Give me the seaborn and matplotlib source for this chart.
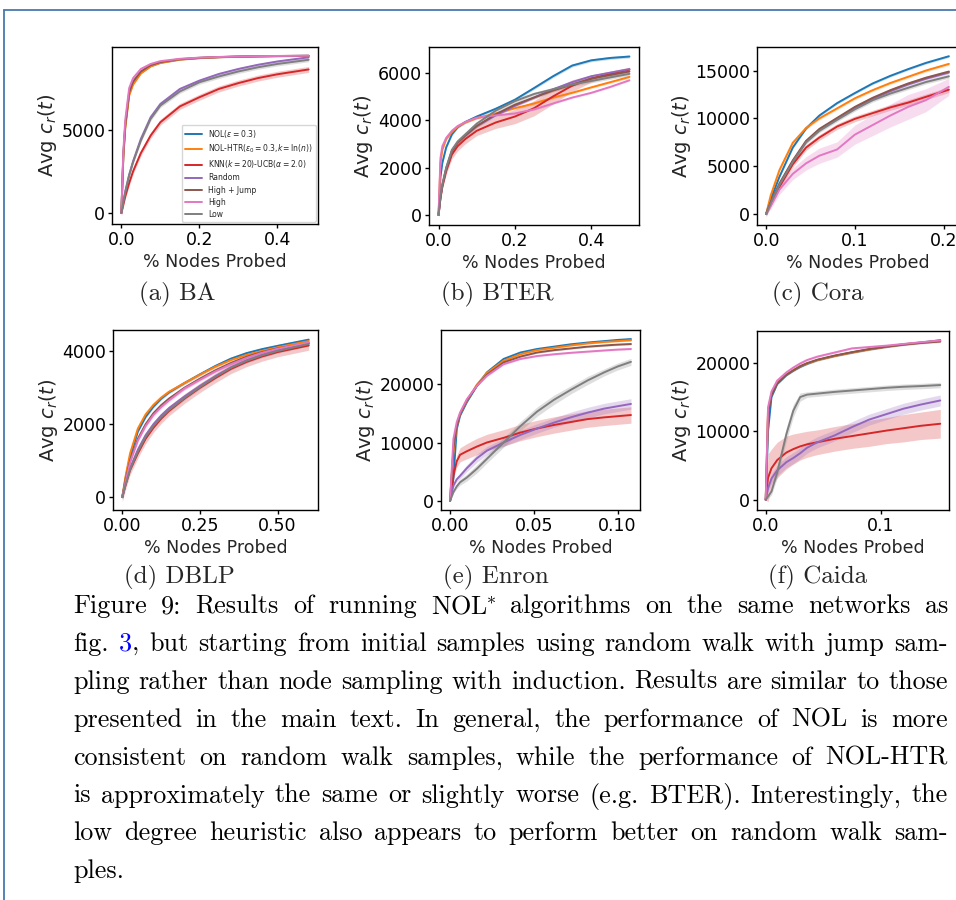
import numpy as np
import seaborn as sns
import matplotlib
matplotlib.use("Agg")
import matplotlib.pyplot as plt
from matplotlib.lines import Line2D

W, H = 956, 900

METHODS = [r"NOL($\epsilon = 0.3$)", r"NOL-HTR($\epsilon_0 = 0.3$,$k = \ln(n)$)",
           r"KNN($k = 20$)-UCB($\alpha = 2.0$)", "Random", "High + Jump", "High", "Low"]
COLORS = ["#1f77b4", "#ff7f0e", "#d62728", "#9467bd", "#8c564b", "#e377c2", "#7f7f7f"]

# (a) BA
BA_X = [0, 0.005, 0.01, 0.02, 0.03, 0.05, 0.075, 0.1, 0.15, 0.2, 0.25, 0.3, 0.35, 0.4, 0.48]
BA_NOL = [0, 3400, 5200, 7150, 7800, 8420, 8820, 9030, 9220, 9310, 9360, 9390, 9410, 9425, 9440]
BA_HTR = [0, 3300, 5100, 7050, 7700, 8380, 8800, 9010, 9210, 9300, 9355, 9385, 9405, 9420, 9435]
BA_KNN = [0, 500, 1000, 1800, 2500, 3600, 4650, 5450, 6400, 6950, 7450, 7800, 8100, 8330, 8620]
BA_RANDOM = [0, 700, 1300, 2300, 3100, 4450, 5750, 6550, 7450, 7950, 8350, 8650, 8900, 9100, 9350]
BA_HIGHJUMP = [0, 3500, 5300, 7250, 7900, 8500, 8880, 9060, 9240, 9320, 9365, 9395, 9415, 9428, 9442]
BA_HIGH = [0, 3700, 5600, 7500, 8100, 8650, 8950, 9120, 9260, 9330, 9370, 9400, 9420, 9430, 9445]
BA_LOW = [0, 650, 1250, 2250, 3050, 4350, 5650, 6450, 7300, 7850, 8200, 8500, 8750, 8950, 9200]
BA_SPREAD = [40, 40, 180, 80, 40, 40, 120]

# (b) BTER
BTER_X = [0, 0.005, 0.01, 0.02, 0.035, 0.05, 0.07, 0.1, 0.15, 0.2, 0.25, 0.3, 0.35, 0.4, 0.45, 0.5]
BTER_NOL = [0, 1600, 2200, 2850, 3400, 3700, 3920, 4150, 4480, 4860, 5350, 5850, 6300, 6520, 6620, 6680]
BTER_HTR = [0, 2200, 2750, 3200, 3500, 3720, 3900, 4080, 4280, 4500, 4700, 4950, 5150, 5380, 5600, 5820]
BTER_KNN = [0, 700, 1200, 1850, 2550, 2900, 3200, 3550, 3900, 4150, 4500, 5000, 5450, 5750, 5950, 6130]
BTER_RANDOM = [0, 750, 1250, 1950, 2700, 3050, 3350, 3750, 4200, 4600, 4950, 5300, 5600, 5850, 6000, 6150]
BTER_HIGHJUMP = [0, 750, 1250, 1950, 2700, 3050, 3350, 3750, 4250, 4650, 4950, 5250, 5500, 5750, 5900, 6050]
BTER_HIGH = [0, 2400, 2900, 3250, 3550, 3750, 3920, 4100, 4200, 4280, 4450, 4700, 4950, 5150, 5400, 5680]
BTER_LOW = [0, 800, 1300, 2000, 2750, 3100, 3400, 3850, 4400, 4800, 5100, 5300, 5500, 5650, 5800, 5950]
BTER_SPREAD = [60, 50, [0, 80, 120, 150, 180, 200, 200, 200, 250, 300, 320, 320, 250, 150, 120, 100], 60, 60, 40, 80]

# (c) Cora
CORA_X = [0, 0.005, 0.015, 0.03, 0.045, 0.06, 0.08, 0.1, 0.12, 0.14, 0.16, 0.18, 0.206]
CORA_NOL = [0, 1500, 3900, 6950, 8950, 10300, 11600, 12650, 13650, 14450, 15150, 15800, 16500]
CORA_HTR = [0, 1900, 4600, 7450, 9000, 10000, 11050, 12100, 12950, 13700, 14350, 15000, 15700]
CORA_KNN = [0, 1000, 2850, 5200, 6950, 8000, 9150, 9950, 10550, 11150, 11650, 12250, 13000]
CORA_RANDOM = [0, 1150, 3100, 5500, 7550, 8800, 9950, 11100, 12050, 12850, 13550, 14150, 14800]
CORA_HIGHJUMP = [0, 1200, 3200, 5600, 7650, 8900, 10050, 11200, 12150, 12950, 13650, 14250, 14900]
CORA_HIGH = [0, 800, 2550, 4200, 5300, 6100, 6750, 8300, 9300, 10300, 11200, 11900, 13300]
CORA_LOW = [0, 1100, 3050, 5450, 7500, 8700, 9850, 10950, 11900, 12600, 13200, 13800, 14400]
CORA_SPREAD = [120, 150, 300, 150, 150, [0, 300, 500, 600, 700, 800, 800, 1000, 1100, 1200, 1300, 1200, 900], 200]

# (d) DBLP
DBLP_X = [0, 0.01, 0.025, 0.05, 0.075, 0.1, 0.125, 0.15, 0.2, 0.25, 0.3, 0.35, 0.4, 0.45, 0.5, 0.6]
DBLP_NOL = [0, 500, 1100, 1800, 2200, 2480, 2700, 2870, 3130, 3370, 3600, 3800, 3950, 4060, 4150, 4320]
DBLP_HTR = [0, 550, 1200, 1880, 2270, 2530, 2730, 2890, 3130, 3360, 3580, 3760, 3900, 4010, 4110, 4280]
DBLP_KNN = [0, 320, 740, 1200, 1600, 1900, 2150, 2360, 2700, 3000, 3270, 3520, 3710, 3860, 3980, 4160]
DBLP_RANDOM = [0, 350, 800, 1300, 1700, 2000, 2240, 2440, 2760, 3050, 3320, 3560, 3750, 3900, 4030, 4230]
DBLP_HIGHJUMP = [0, 450, 1000, 1600, 2000, 2300, 2520, 2700, 3000, 3250, 3480, 3680, 3850, 3980, 4080, 4220]
DBLP_HIGH = [0, 400, 950, 1550, 1950, 2250, 2470, 2650, 2980, 3220, 3450, 3650, 3820, 3960, 4070, 4240]
DBLP_LOW = [0, 330, 760, 1250, 1650, 1950, 2190, 2390, 2720, 3020, 3300, 3550, 3740, 3890, 4010, 4200]
DBLP_SPREAD = [40, 40, 130, 60, 50, 50, 60]

# (e) Enron
ENRON_X = [0, 0.002, 0.004, 0.006, 0.01, 0.016, 0.022, 0.032, 0.042, 0.052, 0.062, 0.072, 0.082, 0.092, 0.1, 0.108]
ENRON_NOL = [0, 3800, 12300, 14600, 16900, 19700, 22000, 24300, 25400, 26000, 26400, 26800, 27100, 27350, 27550, 27700]
ENRON_HTR = [0, 8300, 12800, 14900, 17100, 19900, 21900, 24000, 25100, 25800, 26200, 26600, 26950, 27200, 27350, 27500]
ENRON_KNN = [0, 4300, 6800, 7900, 8500, 9300, 10000, 10800, 11700, 12400, 13000, 13500, 14000, 14300, 14500, 14700]
ENRON_RANDOM = [0, 2600, 3700, 4300, 5600, 7300, 8600, 10000, 11300, 12400, 13400, 14300, 15100, 15800, 16200, 16600]
ENRON_HIGHJUMP = [0, 9000, 12800, 14900, 17200, 19700, 21600, 23700, 24700, 25400, 25800, 26100, 26400, 26600, 26750, 26850]
ENRON_HIGH = [0, 10600, 13500, 15150, 17400, 19700, 21400, 23400, 24300, 24800, 25100, 25350, 25550, 25750, 25900, 26000]
ENRON_LOW = [0, 1500, 2500, 3200, 4000, 5500, 7200, 10000, 12800, 15300, 17300, 19000, 20600, 22000, 23000, 23800]
ENRON_SPREAD = [150, 150,
                [0, 600, 1000, 1200, 1300, 1400, 1400, 1400, 1400, 1400, 1400, 1400, 1400, 1400, 1400, 1400],
                [0, 300, 400, 500, 600, 700, 700, 700, 800, 800, 800, 900, 900, 900, 900, 900],
                150, 150,
                [0, 200, 400, 500, 600, 700, 700, 800, 800, 800, 800, 700, 700, 600, 600, 600]]

# (f) Caida
CAIDA_X = [0, 0.002, 0.005, 0.01, 0.018, 0.024, 0.03, 0.036, 0.045, 0.06, 0.075, 0.09, 0.105, 0.12, 0.135, 0.152]
CAIDA_NOL = [0, 10000, 15000, 16900, 18200, 18850, 19400, 19850, 20400, 21000, 21500, 21950, 22350, 22700, 22950, 23300]
CAIDA_HTR = [0, 13000, 15500, 17100, 18300, 18900, 19500, 19900, 20400, 21000, 21500, 21950, 22350, 22700, 22950, 23200]
CAIDA_KNN = [0, 3200, 4600, 5800, 6900, 7400, 7800, 8100, 8400, 8900, 9300, 9700, 10100, 10450, 10800, 11100]
CAIDA_RANDOM = [0, 1700, 3100, 4300, 5500, 6100, 6800, 7600, 8400, 9400, 10600, 11700, 12500, 13300, 13900, 14500]
CAIDA_HIGHJUMP = [0, 12500, 15300, 17000, 18250, 18900, 19500, 19950, 20450, 21050, 21550, 22000, 22350, 22650, 22900, 23100]
CAIDA_HIGH = [0, 13500, 15800, 17400, 18600, 19300, 19900, 20400, 20900, 21500, 22100, 22300, 22500, 22750, 23000, 23250]
CAIDA_LOW = [0, 500, 1200, 4000, 9600, 13000, 15000, 15350, 15500, 15750, 15950, 16150, 16350, 16500, 16600, 16750]
CAIDA_SPREAD = [150, 150,
                [0, 3500, 2800, 2600, 2400, 2200, 2000, 1900, 1800, 1800, 1800, 1900, 1900, 2000, 2000, 2100],
                [0, 500, 700, 800, 800, 800, 800, 800, 800, 800, 800, 800, 800, 800, 800, 800],
                150, 150,
                [0, 300, 500, 800, 1000, 900, 600, 400, 400, 400, 400, 400, 400, 400, 400, 400]]

SUBCAPTIONS = ["(a) BA", "(b) BTER", "(c) Cora", "(d) DBLP", "(e) Enron", "(f) Caida"]

CAPTION = [
    r"Figure 9: Results of running $\mathrm{NOL}^{\!\!*}$ algorithms on the same networks as",
    "fig. 3, but starting from initial samples using random walk with jump sam-",
    "pling rather than node sampling with induction. Results are similar to those",
    "presented in the main text. In general, the performance of NOL is more",
    "consistent on random walk samples, while the performance of NOL-HTR",
    "is approximately the same or slightly worse (e.g. BTER). Interestingly, the",
    "low degree heuristic also appears to perform better on random walk sam-",
    "ples.",
]

# axes box in pixels (left, top, right, bottom)
panels = [
    (BA_X, [BA_NOL, BA_HTR, BA_KNN, BA_RANDOM, BA_HIGHJUMP, BA_HIGH, BA_LOW], BA_SPREAD,
     (112, 47, 318, 224), [0, 5000], [0, 0.2, 0.4]),
    (BTER_X, [BTER_NOL, BTER_HTR, BTER_KNN, BTER_RANDOM, BTER_HIGHJUMP, BTER_HIGH, BTER_LOW], BTER_SPREAD,
     (429, 47, 639, 225), [0, 2000, 4000, 6000], [0, 0.2, 0.4]),
    (CORA_X, [CORA_NOL, CORA_HTR, CORA_KNN, CORA_RANDOM, CORA_HIGHJUMP, CORA_HIGH, CORA_LOW], CORA_SPREAD,
     (757, 47, 958, 225), [0, 5000, 10000, 15000], [0, 0.1, 0.2]),
    (DBLP_X, [DBLP_NOL, DBLP_HTR, DBLP_KNN, DBLP_RANDOM, DBLP_HIGHJUMP, DBLP_HIGH, DBLP_LOW], DBLP_SPREAD,
     (113, 330, 318, 510), [0, 2000, 4000], [0, 0.25, 0.5]),
    (ENRON_X, [ENRON_NOL, ENRON_HTR, ENRON_KNN, ENRON_RANDOM, ENRON_HIGHJUMP, ENRON_HIGH, ENRON_LOW], ENRON_SPREAD,
     (441, 330, 640, 510), [0, 10000, 20000], [0, 0.05, 0.1]),
    (CAIDA_X, [CAIDA_NOL, CAIDA_HTR, CAIDA_KNN, CAIDA_RANDOM, CAIDA_HIGHJUMP, CAIDA_HIGH, CAIDA_LOW], CAIDA_SPREAD,
     (757, 331, 949, 510), [0, 10000, 20000], [0, 0.1]),
]

sns.set_theme(style="ticks")
plt.rcParams["font.family"] = ["DejaVu Sans"]
plt.rcParams["axes.edgecolor"] = "black"
plt.rcParams["xtick.color"] = "black"
plt.rcParams["ytick.color"] = "black"

fig = plt.figure(figsize=(W / 100, H / 100), dpi=100)
fig.patch.set_facecolor("white")

for i, (xs, series, spreads, box, yt, xt) in enumerate(panels):
    x0, y0, x1, y1 = box
    ax = fig.add_axes([x0 / W, 1 - y1 / H, (x1 - x0) / W, (y1 - y0) / H])
    x = np.array(xs)
    for name, vals, spread, col in zip(METHODS, series, spreads, COLORS):
        y = np.array(vals, dtype=float)
        s = np.array(spread, dtype=float)
        ax.fill_between(x, y - s, y + s, color=col, alpha=0.25, lw=0)
        sns.lineplot(x=x, y=y, ax=ax, color=col, label=name, linewidth=1.4, legend=(i == 0))
    ax.set_yticks(yt)
    ax.set_xticks(xt)
    ax.tick_params(labelsize=12.5, length=3, width=1, pad=1.8)
    ax.set_xlabel("% Nodes Probed", fontsize=12.5, labelpad=3)
    ax.set_ylabel(r"Avg $c_r(t)$", fontsize=14, labelpad=2)
    for sp in ax.spines.values():
        sp.set_linewidth(1)
        sp.set_color("black")
    if i == 0:
        ax.legend(loc="lower right", fontsize=5.5, frameon=True, edgecolor="0.8",
                  borderaxespad=0.3, handlelength=2.2, labelspacing=0.4)

# sub-figure captions
SERIF = "cmr10"
sub_pos = [(177, 300), (497, 300), (818, 300), (179, 583), (496, 583), (818, 583)]
for txt, (cx, cy) in zip(SUBCAPTIONS, sub_pos):
    fig.text(cx / W, 1 - cy / H, txt, fontsize=18, family=SERIF, ha="center", va="baseline")

# justified caption paragraph
renderer = fig.canvas.get_renderer()


def put_line(line, ybase, justify, left=73, right=948, size=18.8):
    words = []
    for w in line.split(" "):
        if w == "3,":
            parts = [("3", "#0000ff"), (",", "black")]
        else:
            parts = [(w, "black")]
        objs = []
        for s, c in parts:
            t = fig.text(0, 1 - ybase / H, s, fontsize=size, family=SERIF, color=c,
                         math_fontfamily="cm", ha="left", va="baseline")
            objs.append((t, t.get_window_extent(renderer).width))
        words.append(objs)
    total = sum(wd for objs in words for _, wd in objs)
    if justify and len(words) > 1:
        gap = (right - left - total) / (len(words) - 1)
    else:
        gap = size * 0.333 * 100 / 72
    xpos = left
    for objs in words:
        for t, wd in objs:
            t.set_x(xpos / W)
            xpos += wd
        xpos += gap


for k, line in enumerate(CAPTION):
    put_line(line, 613 + 37.9 * k, justify=(k < len(CAPTION) - 1))

# page frame
frame = "#4a78ad"
fig.add_artist(Line2D([4 / W, 1], [1 - 10 / H, 1 - 10 / H], transform=fig.transFigure, color=frame, lw=1.3))
fig.add_artist(Line2D([4 / W, 4 / W], [0, 1 - 10 / H], transform=fig.transFigure, color=frame, lw=1.3))

fig.savefig("out.png", dpi=100, facecolor="white")
